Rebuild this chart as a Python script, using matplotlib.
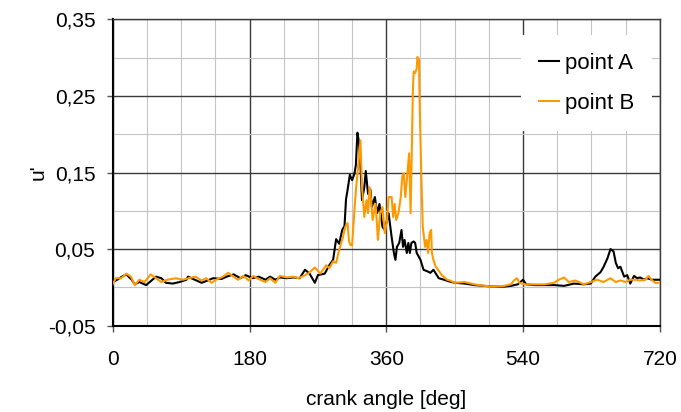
import matplotlib
matplotlib.use('Agg')
import matplotlib.pyplot as plt
from matplotlib.ticker import MultipleLocator, FuncFormatter

plt.rcParams['font.family'] = ['Liberation Sans', 'DejaVu Sans']

# crank angle [deg] and u' values
angle_a = [0, 6, 12, 18, 25, 29, 35, 44, 51, 57, 64, 70, 79, 88, 97, 99, 108, 117, 125, 132,
           143, 150, 159, 168, 175, 184, 192, 201, 207, 214, 220, 229, 238, 246, 253, 259, 266, 270,
           279, 285, 290, 294, 298, 302, 305, 307, 309, 312, 315, 318, 320, 322, 324, 326, 328, 331,
           333, 336, 339, 341, 345, 348, 351, 355, 358, 361, 363, 367, 370, 372, 374, 377, 380, 382,
           384, 387, 389, 391, 393, 396, 398, 400, 405, 409, 414, 418, 422, 429, 436, 442, 450, 463,
           476, 489, 502, 515, 524, 533, 540, 544, 555, 568, 581, 594, 607, 620, 629, 635, 642, 646,
           651, 655, 659, 662, 665, 668, 673, 677, 681, 686, 690, 694, 699, 703, 710, 716, 720]
u_a = [.007, .010, .014, .017, .010, .004, .007, .003, .009, .014, .012, .006, .005, .007, .010, .014,
       .010, .006, .009, .012, .011, .014, .017, .012, .016, .012, .014, .010, .014, .010, .013, .012,
       .013, .012, .023, .018, .006, .016, .018, .029, .036, .063, .057, .075, .080, .115, .127, .147,
       .140, .148, .160, .202, .190, .160, .114, .130, .152, .122, .128, .105, .118, .097, .109, .079,
       .075, .088, .097, .066, .045, .036, .053, .058, .075, .053, .062, .045, .058, .045, .058, .060,
       .058, .045, .036, .023, .021, .019, .023, .012, .010, .008, .006, .005, .003, .002, .001, .001,
       .002, .004, .010, .004, .003, .003, .003, .002, .005, .004, .005, .014, .020, .027, .038, .050,
       .047, .032, .025, .027, .014, .016, .005, .015, .012, .013, .010, .012, .010, .010, .010]

angle_b = [0, 4, 11, 18, 24, 29, 35, 42, 50, 57, 64, 72, 83, 92, 100, 109, 117, 123, 130, 136,
           145, 152, 159, 165, 172, 179, 185, 192, 201, 207, 214, 220, 229, 238, 244, 251, 257, 266,
           273, 281, 285, 290, 294, 298, 303, 306, 309, 311, 313, 315, 318, 320, 323, 326, 328, 331,
           334, 336, 338, 340, 342, 346, 349, 352, 355, 358, 361, 363, 367, 369, 371, 373, 376, 379,
           381, 383, 385, 387, 390, 392, 393, 395, 396, 398, 400, 401, 403, 404, 406, 408, 411, 413,
           415, 417, 419, 420, 422, 425, 429, 433, 440, 444, 450, 463, 476, 489, 502, 515, 524, 528,
           532, 535, 542, 555, 568, 581, 587, 594, 600, 609, 620, 629, 637, 646, 655, 662, 668, 675,
           681, 688, 694, 701, 705, 710, 714, 720]
u_b = [.004, .012, .012, .018, .014, .003, .010, .007, .017, .012, .007, .010, .012, .010, .012, .014,
       .009, .012, .006, .010, .014, .019, .014, .010, .015, .009, .015, .011, .007, .012, .006, .015,
       .013, .014, .012, .015, .018, .026, .018, .029, .025, .034, .032, .049, .066, .079, .084, .060,
       .055, .055, .100, .127, .158, .192, .132, .092, .114, .097, .131, .114, .088, .109, .062, .097,
       .105, .071, .088, .118, .118, .092, .109, .088, .097, .118, .145, .149, .118, .140, .175, .097,
       .149, .258, .282, .280, .286, .301, .297, .236, .149, .079, .053, .062, .045, .071, .075, .045,
       .036, .027, .022, .016, .010, .009, .006, .007, .004, .002, .001, .002, .004, .009, .012, .006,
       .004, .004, .004, .006, .010, .013, .007, .009, .004, .007, .010, .007, .012, .007, .009, .007,
       .010, .010, .009, .010, .015, .009, .006, .006]

x_ticks = [0, 180, 360, 540, 720]
y_ticks = [-0.05, 0.05, 0.15, 0.25, 0.35]

fig = plt.figure(figsize=(6.81, 4.12), dpi=100)
ax = fig.add_axes([0.1655, 0.2095, 0.8035, 0.7435])

ax.plot(angle_a, u_a, color='black', lw=1.5, label='point A', zorder=3)
ax.plot(angle_b, u_b, color='#FF9900', lw=1.5, label='point B', zorder=4)

ax.set_xlim(0, 720)
ax.set_ylim(-0.05, 0.35)
ax.set_xticks(x_ticks)
ax.set_yticks(y_ticks)
ax.xaxis.set_minor_locator(MultipleLocator(45))
ax.yaxis.set_minor_locator(MultipleLocator(0.05))
ax.yaxis.set_major_formatter(FuncFormatter(lambda v, p: f'{v:.2f}'.replace('.', ',')))

ax.grid(which='major', color='#3a3a3a', lw=1.0, zorder=1)
ax.grid(which='minor', color='#c4c4c4', lw=0.8, zorder=0)
ax.tick_params(which='major', direction='out', length=4.5, width=1, color='#555555',
               labelsize=15, pad=8)
ax.tick_params(which='minor', length=0)
ax.tick_params(axis='x', pad=13)

for side in ['top', 'right']:
    ax.spines[side].set_color('#3a3a3a')
    ax.spines[side].set_linewidth(1.0)
for side in ['left', 'bottom']:
    ax.spines[side].set_color('black')
    ax.spines[side].set_linewidth(1.5)

ax.set_xlabel('crank angle [deg]', fontsize=15, labelpad=15)
ax.set_ylabel("u'", fontsize=15, labelpad=0)

leg = ax.legend(loc='upper right', bbox_to_anchor=(652 / 681, 1 - 35 / 412),
                bbox_transform=fig.transFigure, fontsize=16, frameon=True, fancybox=False,
                handlelength=0.9, handletextpad=0.26, labelspacing=0.85, borderpad=0.8,
                borderaxespad=0)
leg.get_frame().set_edgecolor('none')
leg.get_frame().set_facecolor('white')
leg.get_frame().set_alpha(1)

fig.savefig('out.png', dpi=100)
